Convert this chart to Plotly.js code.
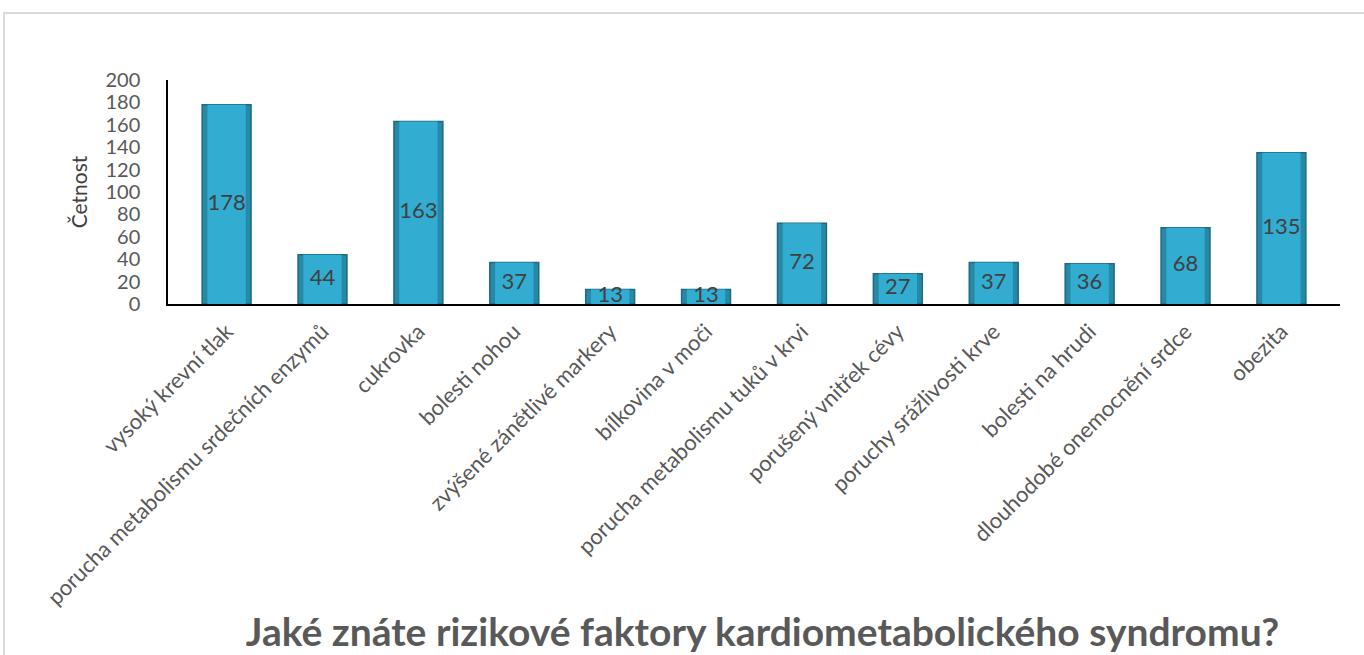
<!DOCTYPE html>
<html>
<head>
<meta charset="utf-8">
<script src="https://cdn.plot.ly/plotly-3.0.1.min.js"></script>
<style>
html,body{margin:0;padding:0;background:#fff;overflow:hidden;}
#frame{position:absolute;left:3px;top:12px;width:1400px;height:700px;border:2px solid #d9d9d9;box-sizing:border-box;}
#chart{position:absolute;left:0;top:0;width:1364px;height:655px;}
</style>
</head>
<body>
<div id="frame"></div>
<div id="chart"></div>
<script>
const categories = [
  "vysoký krevní tlak",
  "porucha metabolismu srdečních enzymů",
  "cukrovka",
  "bolesti nohou",
  "zvýšené zánětlivé markery",
  "bílkovina v moči",
  "porucha metabolismu tuků v krvi",
  "porušený vnitřek cévy",
  "poruchy srážlivosti krve",
  "bolesti na hrudi",
  "dlouhodobé onemocnění srdce",
  "obezita"
];
const values = [178, 44, 163, 37, 13, 13, 72, 27, 37, 36, 68, 135];
const yTicks = [0, 20, 40, 60, 80, 100, 120, 140, 160, 180, 200];

const FONT = 'Lato, "Open Sans", sans-serif';

const barsOuter = {
  type: 'bar',
  x: categories,
  y: values,
  width: 0.51,
  marker: {
    color: '#2789a8',
    line: {color: '#1d6a82', width: 1.5}
  },
  hoverinfo: 'x+y',
  showlegend: false
};
const barsInner = {
  type: 'bar',
  x: categories,
  y: values,
  width: 0.40,
  marker: {
    color: '#33acd1',
    line: {width: 0}
  },
  hoverinfo: 'skip',
  showlegend: false
};
const labels = {
  type: 'scatter',
  mode: 'text',
  x: categories,
  y: values.map(v => v / 2),
  text: values.map(String),
  textposition: 'middle center',
  textfont: {family: FONT, size: 22, color: '#404040'},
  hoverinfo: 'skip',
  showlegend: false
};

const layout = {
  width: 1364,
  height: 655,
  margin: {l: 168, r: 24, t: 80, b: 351},
  paper_bgcolor: 'rgba(0,0,0,0)',
  plot_bgcolor: 'rgba(0,0,0,0)',
  barmode: 'overlay',
  font: {family: FONT, color: '#595959'},
  title: {
    text: '<b>Jaké znáte rizikové faktory kardiometabolického syndromu?</b>',
    font: {family: FONT, size: 39, color: '#595959'},
    x: 0.559, xanchor: 'center', xref: 'container',
    y: 0.035, yanchor: 'middle', yref: 'container'
  },
  xaxis: {
    type: 'category',
    tickangle: -45,
    tickfont: {family: FONT, size: 22, color: '#595959'},
    showline: true, linecolor: '#000', linewidth: 2,
    ticks: 'outside', ticklen: 4, tickcolor: 'rgba(0,0,0,0)',
    showgrid: false, zeroline: false,
    automargin: false
  },
  yaxis: {
    range: [0, 200],
    tickvals: yTicks,
    ticktext: yTicks.map(String),
    tickfont: {family: FONT, size: 20, color: '#595959'},
    showline: true, linecolor: '#000', linewidth: 1.5,
    ticks: 'outside', ticklen: 22, tickcolor: 'rgba(0,0,0,0)',
    showgrid: false, zeroline: false,
    title: {text: 'Četnost', font: {family: FONT, size: 21, color: '#404040'}, standoff: 12},
    automargin: false
  }
};

Plotly.newPlot('chart', [barsOuter, barsInner, labels], layout, {displayModeBar: false, responsive: false});
</script>
</body>
</html>
